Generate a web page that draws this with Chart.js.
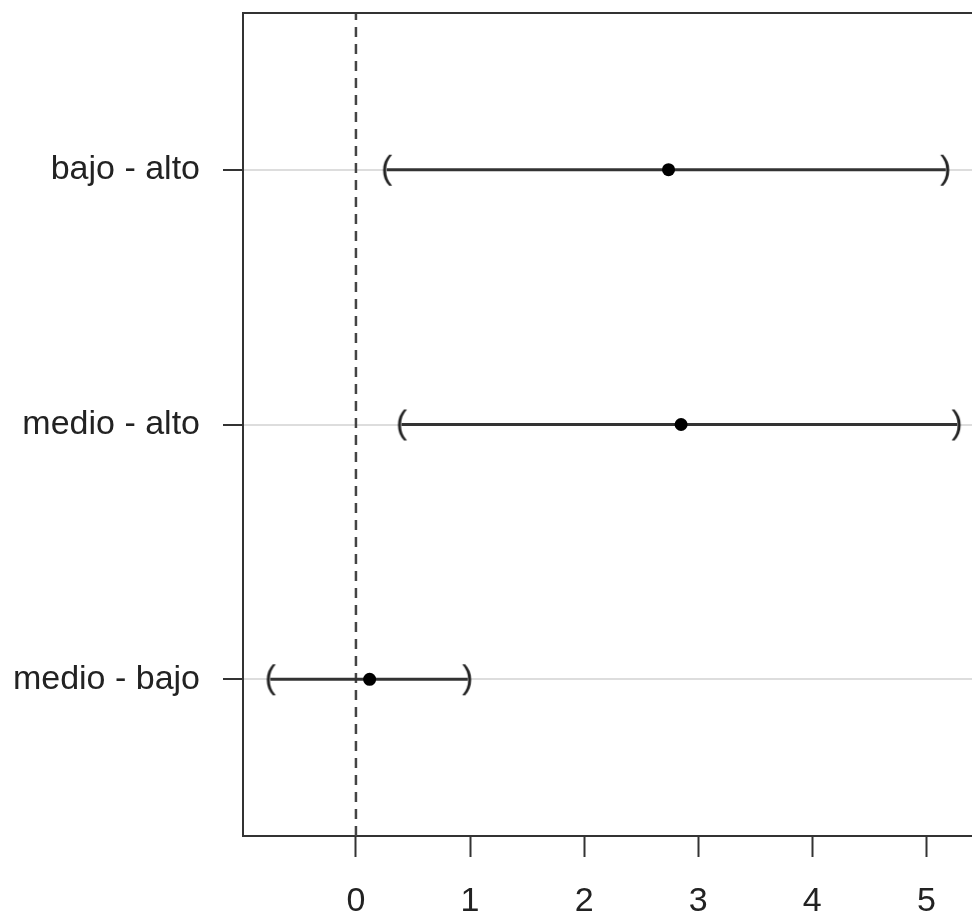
<!DOCTYPE html>
<html>
<head>
<meta charset="utf-8">
<script src="https://cdn.jsdelivr.net/npm/chart.js@4.4.1/dist/chart.umd.min.js"></script>
<style>
  body { margin: 0; background: #fff; overflow: hidden; }
  #wrap { width: 972px; height: 915px; }
</style>
</head>
<body>
<div id="wrap"><canvas id="chart" width="972" height="915"></canvas></div>
<script>
// Data (differences with their intervals)
const categories = ['medio - bajo', 'medio - alto', 'bajo - alto'];
const estimates = [0.12, 2.85, 2.74];
const lowerBounds = [-0.75, 0.40, 0.27];
const upperBounds = [0.98, 5.27, 5.17];
const xTicks = [0, 1, 2, 3, 4, 5];

const X_MIN = -0.99, X_MAX = 5.40;
const Y_MIN = 0.385, Y_MAX = 3.615;
const FONT = '"Liberation Sans", Arial, sans-serif';
const INK = '#333333';

// "(" and ")" glyphs used as point styles at interval ends
function parenImage(ch) {
  const c = document.createElement('canvas');
  c.width = 24;
  c.height = 44;
  const ctx = c.getContext('2d');
  ctx.fillStyle = '#222';
  ctx.font = '34px ' + FONT;
  ctx.textAlign = 'center';
  ctx.textBaseline = 'middle';
  ctx.fillText(ch, 12, 22);
  return c;
}
const leftParen = parenImage('(');
const rightParen = parenImage(')');

// no extra room for overflowing tick labels, the box fills the canvas
function noScalePadding(scale) {
  scale.paddingTop = 0;
  scale.paddingBottom = 0;
  scale.paddingLeft = 0;
  scale.paddingRight = 0;
}

const datasets = [];

// estimate points (first = drawn on top)
datasets.push({
  data: estimates.map((v, i) => ({ x: v, y: i + 1 })),
  pointRadius: 6.5,
  pointBackgroundColor: '#000',
  pointBorderColor: '#000',
  pointBorderWidth: 0,
  showLine: false
});

// interval lines with parentheses at the ends
categories.forEach((cat, i) => {
  datasets.push({
    data: [{ x: lowerBounds[i], y: i + 1 }, { x: upperBounds[i], y: i + 1 }],
    showLine: true,
    borderColor: INK,
    borderWidth: 3,
    pointStyle: [leftParen, rightParen],
    pointRadius: 10
  });
});

// dashed reference line at zero
datasets.push({
  data: [{ x: 0, y: Y_MIN }, { x: 0, y: Y_MAX }],
  showLine: true,
  borderColor: '#444',
  borderWidth: 2.5,
  borderDash: [10, 7],
  pointRadius: 0
});

const topFrame = {
  id: 'topFrame',
  afterDatasetsDraw(chart) {
    const { ctx, chartArea } = chart;
    ctx.save();
    ctx.strokeStyle = INK;
    ctx.lineWidth = 2;
    ctx.beginPath();
    ctx.moveTo(chartArea.left - 1, chartArea.top);
    ctx.lineTo(chartArea.right, chartArea.top);
    ctx.stroke();
    ctx.restore();
  }
};

new Chart(document.getElementById('chart'), {
  type: 'scatter',
  data: { datasets },
  plugins: [topFrame],
  options: {
    responsive: false,
    animation: false,
    layout: {
      autoPadding: false,
      padding: { top: 13, right: 0, left: 0, bottom: 0 }
    },
    plugins: {
      legend: { display: false },
      tooltip: { enabled: false }
    },
    scales: {
      x: {
        type: 'linear',
        position: 'bottom',
        min: X_MIN,
        max: X_MAX,
        afterBuildTicks: (scale) => { scale.ticks = xTicks.map(v => ({ value: v })); },
        afterFit: (scale) => { scale.height = 79; noScalePadding(scale); },
        grid: {
          drawOnChartArea: false,
          drawTicks: true,
          tickLength: 21,
          tickColor: INK,
          tickWidth: 2
        },
        border: { color: INK, width: 2 },
        ticks: {
          padding: 24,
          color: '#222',
          font: { family: FONT, size: 34 },
          maxRotation: 0
        }
      },
      y: {
        type: 'linear',
        min: Y_MIN,
        max: Y_MAX,
        afterBuildTicks: (scale) => { scale.ticks = categories.map((c, i) => ({ value: i + 1 })); },
        afterFit: (scale) => { scale.width = 243; noScalePadding(scale); },
        grid: {
          color: '#dddddd',
          lineWidth: 2,
          drawTicks: true,
          tickLength: 20,
          tickColor: INK,
          tickWidth: 2
        },
        border: { color: INK, width: 2 },
        ticks: {
          padding: 23,
          color: '#222',
          font: { family: FONT, size: 34 },
          callback: (v) => categories[v - 1]
        }
      }
    }
  }
});
</script>
</body>
</html>
